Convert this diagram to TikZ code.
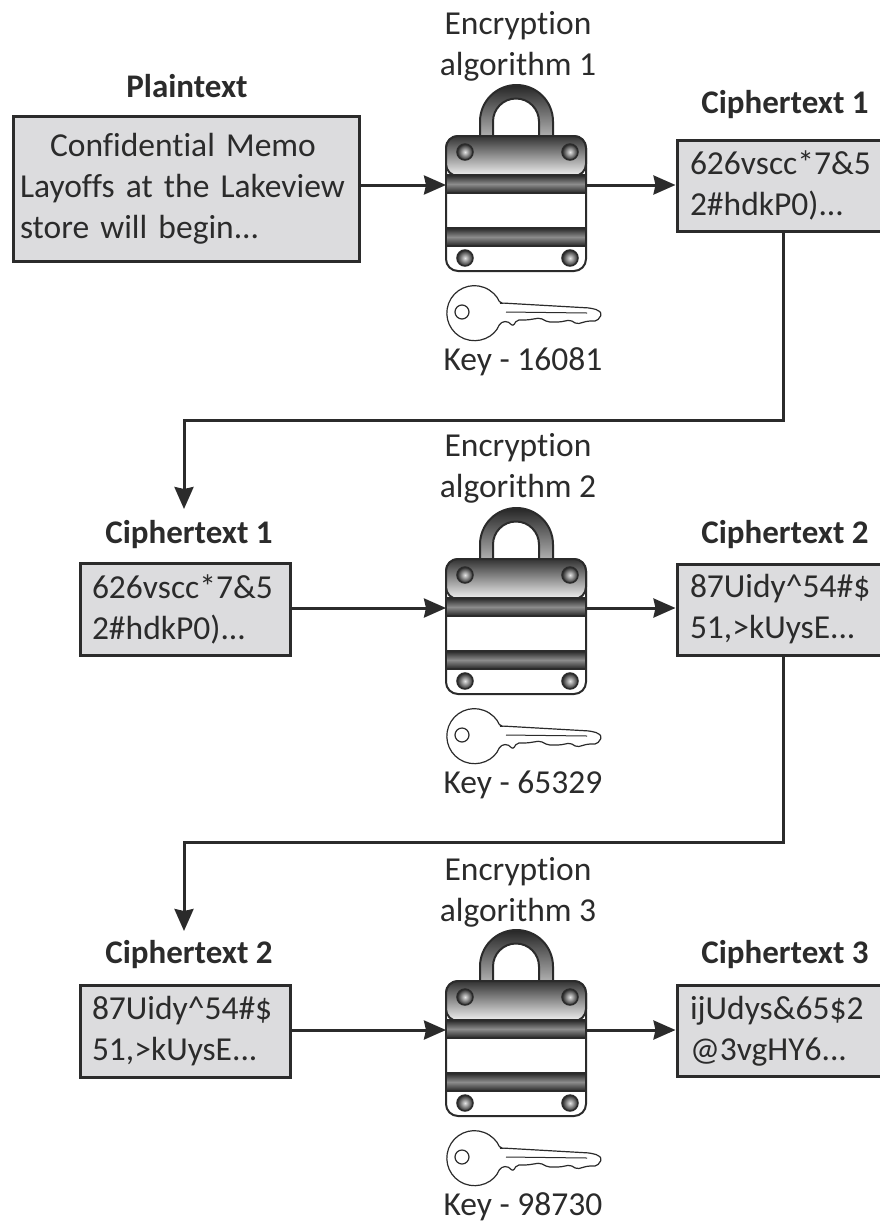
\documentclass[tikz,border=0pt]{standalone}
\usepackage{fontspec}
\setmainfont[Ligatures={NoCommon}]{Carlito}
\usetikzlibrary{arrows.meta}
\definecolor{inkgray}{HTML}{2B2B2B}
\definecolor{boxgray}{HTML}{DCDCDE}
\newcommand{\txtsize}{\fontsize{33.5}{41}\selectfont}
\newcommand{\hdsize}{\fontsize{33}{36}\bfseries\selectfont}
\tikzset{
  textbox/.style={draw=inkgray,fill=boxgray,line width=3pt,text=inkgray,
    inner sep=0pt,font=\txtsize,align=left},
  hdlabel/.style={text=inkgray,inner sep=0pt,font=\hdsize},
  txtlabel/.style={text=inkgray,inner sep=0pt,font=\txtsize,align=center},
  conn/.style={draw=inkgray,line width=3pt},
  connarrow/.style={conn,-{Stealth[length=22pt,width=19pt,inset=2pt]}},
  lockline/.style={draw=inkgray,line width=2pt},
  keyline/.style={draw=inkgray,line width=1.2pt,fill=white}
}
% lock and key of one row, #1 is the name, #2 the row offset
\newcommand{\padlock}[2]{
  \begin{scope}[yshift=#2]
    % shackle
    \path[lockline,top color=black!85,bottom color=black!30]
      (480,137) -- (480,121.5) arc[start angle=180,end angle=360,radius=36.5]
      -- (553,137) -- (539,137) -- (539,121.5)
      arc[start angle=360,end angle=180,radius=23] -- (493,137) -- cycle;
    % body
    \node[lockline,fill=white,rounded corners=12pt,minimum width=140pt,
      minimum height=135pt,inner sep=0pt] (#1) at (516,203.5) {};
    % top part
    \path[lockline,rounded corners=12pt,top color=black!80,bottom color=black!5]
      (446,176) -- (446,136) -- (586,136) -- (586,176) -- cycle;
    % bands
    \path[lockline,top color=black!85,bottom color=black!85,middle color=black!45]
      (446,175) rectangle (586,193);
    \path[lockline,top color=black!85,bottom color=black!85,middle color=black!45]
      (446,228) rectangle (586,246);
    % rivets
    \foreach \rx/\ry in {465/152,570/152,465/258,570/258}
      \path[draw=inkgray,line width=1.5pt,inner color=black!10,outer color=black!85]
        (\rx,\ry) circle[radius=8];
    \coordinate (#1l) at (446,185);
    \coordinate (#1r) at (586,185);
    % key
    \path[keyline,rounded corners=2pt]
      (500,323) arc[start angle=21,end angle=339,radius=27.5]
      -- (502,303) -- (590,308) -- (598,310) -- (602,314) -- (597,321)
      -- (588,321) -- (577,324) -- (570,320) -- (560,322) -- (548,322)
      -- (540,318) -- (527,320) -- (517,320) -- (513,326) -- (507,321) -- cycle;
    \path[keyline] (462,312) circle[radius=7];
    \draw[draw=inkgray,line width=1pt] (506,312) -- (587,313);
  \end{scope}
}
\begin{document}
\begin{tikzpicture}[x=1pt,y=-1pt]
  \useasboundingbox (0,0) rectangle (880,1224);
  \clip (0,0) rectangle (880,1224);

  % locks
  \padlock{lockone}{0pt}
  \padlock{locktwo}{-423pt}
  \padlock{lockthree}{-845pt}

  % first row
  \node[hdlabel] (plainhd) at (187,86) {Plaintext};
  \node[textbox,minimum width=346pt,minimum height=145pt,text width=332pt]
    (plainbox) at (186,188.5)
    {\hspace*{30pt}Confidential Memo\\Layoffs at the Lakeview\\store will begin...};
  \node[txtlabel] (algone) at (518,46) {Encryption\\algorithm 1};
  \node[txtlabel] (keyone) at (523,362) {Key - 16081};
  \node[hdlabel] (cipheronehd) at (785,105) {Ciphertext 1};
  \node[textbox,minimum width=212pt,minimum height=91pt,text width=186pt]
    (cipherone) at (783,185.5) {626vscc*7\&5\\2\#hdkP0)...};

  % second row
  \node[hdlabel] (leftonehd) at (189,535) {Ciphertext 1};
  \node[textbox,minimum width=210pt,minimum height=92pt,text width=186pt]
    (leftone) at (185,609) {626vscc*7\&5\\2\#hdkP0)...};
  \node[txtlabel] (algtwo) at (518,468) {Encryption\\algorithm 2};
  \node[txtlabel] (keytwo) at (523,785) {Key - 65329};
  \node[hdlabel] (ciphertwohd) at (785,535) {Ciphertext 2};
  \node[textbox,minimum width=212pt,minimum height=91pt,text width=186pt]
    (ciphertwo) at (783,609.5) {87Uidy\^{}54\#\$\\51,>kUysE...};

  % third row
  \node[hdlabel] (lefttwohd) at (189,955) {Ciphertext 2};
  \node[textbox,minimum width=210pt,minimum height=92pt,text width=186pt]
    (lefttwo) at (185,1031) {87Uidy\^{}54\#\$\\51,>kUysE...};
  \node[txtlabel] (algthree) at (518,892) {Encryption\\algorithm 3};
  \node[txtlabel] (keythree) at (523,1207) {Key - 98730};
  \node[hdlabel] (cipherthreehd) at (785,955) {Ciphertext 3};
  \node[textbox,minimum width=212pt,minimum height=91pt,text width=186pt]
    (cipherthree) at (783,1031) {ijUdys\&65\$2\\@3vgHY6...};

  % free ends of the long connectors
  \coordinate (bendone) at (184,420);
  \coordinate (dropone) at (184,509);
  \coordinate (bendtwo) at (184,842);
  \coordinate (droptwo) at (184,931);

  % connectors
  \draw[connarrow] (plainbox.east |- lockonel) -- (lockonel);
  \draw[connarrow] (lockoner) -- (cipherone.west |- lockoner);
  \draw[connarrow] (cipherone.south) |- (bendone) -- (dropone);
  \draw[connarrow] (leftone.east |- locktwol) -- (locktwol);
  \draw[connarrow] (locktwor) -- (ciphertwo.west |- locktwor);
  \draw[connarrow] (ciphertwo.south) |- (bendtwo) -- (droptwo);
  \draw[connarrow] (lefttwo.east |- lockthreel) -- (lockthreel);
  \draw[connarrow] (lockthreer) -- (cipherthree.west |- lockthreer);
\end{tikzpicture}
\end{document}
